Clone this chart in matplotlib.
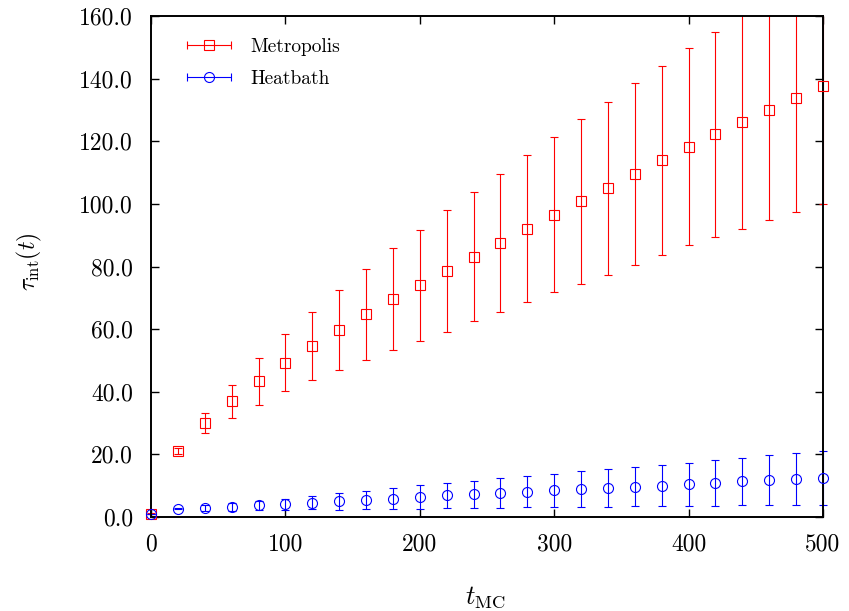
import numpy as np
import matplotlib
matplotlib.use('Agg')
import matplotlib.pyplot as plt
from matplotlib.legend_handler import HandlerErrorbar
from matplotlib.transforms import Bbox, TransformedBbox

# -----------------------------
# Data
# -----------------------------
t_mc = [0, 20, 40, 60, 80, 100, 120, 140, 160, 180, 200, 220, 240,
        260, 280, 300, 320, 340, 360, 380, 400, 420, 440, 460, 480, 500]

metro_tau = [1.0, 21.0, 30.0, 37.0, 43.3, 49.3, 54.6, 59.8, 64.7, 69.5, 74.0,
             78.6, 83.1, 87.6, 92.1, 96.6, 100.8, 105.0, 109.5, 113.9, 118.3,
             122.2, 126.1, 129.9, 133.7, 137.7]
metro_err = [0.2, 1.0, 3.3, 5.3, 7.5, 9.1, 10.9, 12.7, 14.5, 16.3, 17.8,
             19.4, 20.6, 22.0, 23.5, 24.9, 26.3, 27.6, 29.0, 30.2, 31.4,
             32.7, 34.1, 35.1, 36.3, 37.6]

heat_tau = [1.0, 2.7, 2.9, 3.3, 3.7, 4.0, 4.6, 5.0, 5.4, 5.8, 6.4, 6.9, 7.3,
            7.7, 8.1, 8.5, 8.9, 9.3, 9.7, 10.0, 10.4, 10.9, 11.4, 11.8, 12.0, 12.5]
heat_err = [0.1, 0.3, 1.0, 1.3, 1.5, 1.9, 2.2, 2.7, 2.9, 3.35, 3.7, 4.0, 4.3,
            4.7, 5.0, 5.3, 5.7, 6.0, 6.3, 6.6, 7.0, 7.3, 7.6, 8.0, 8.3, 8.7]

x_ticks = [0, 100, 200, 300, 400, 500]
y_ticks = [0, 20, 40, 60, 80, 100, 120, 140, 160]

# -----------------------------
# Style
# -----------------------------
plt.rcParams['font.family'] = 'serif'
plt.rcParams['font.serif'] = ['cmr10', 'DejaVu Serif']
plt.rcParams['mathtext.fontset'] = 'cm'
plt.rcParams['axes.formatter.use_mathtext'] = True

fig = plt.figure(figsize=(8.49, 6.11), dpi=100)
ax = fig.add_axes([151/849, 1-517/611, 672/849, 501/611])

ms = 7.2
cs = 3.2
lw = 0.8

# clip error bars at top/bottom of the frame only (let the edge bars show)
clip = TransformedBbox(Bbox([[-0.02, 0.0], [1.02, 1.0]]), ax.transAxes)

series = [
    (metro_tau, metro_err, 's', '#ff0000', 'Metropolis'),
    (heat_tau, heat_err, 'o', '#0000ff', 'Heatbath'),
]

handles = []
for tau, err, mk, col, lab in series:
    eb = ax.errorbar(t_mc, tau, yerr=err, fmt='none', ecolor=col, elinewidth=lw,
                     capsize=cs, capthick=lw)
    for art in list(eb.lines[1]) + list(eb.lines[2]):
        art.set_clip_path(None)
        art.set_clip_box(clip)
    # open markers, not clipped at the frame edges
    ax.plot(t_mc, tau, linestyle='none', marker=mk, markersize=ms,
            markerfacecolor='none', markeredgecolor=col, markeredgewidth=lw,
            clip_on=False, zorder=3)
    # legend proxy with a horizontal bar like gnuplot's key
    h = ax.errorbar([np.nan], [np.nan], xerr=[1.0], fmt=mk, color=col,
                    markersize=ms, markerfacecolor='none', markeredgecolor=col,
                    markeredgewidth=lw, elinewidth=lw, capsize=cs, capthick=lw,
                    label=lab)
    handles.append(h)

ax.set_xlim(0, 500)
ax.set_ylim(0, 160)
ax.set_xticks(x_ticks)
ax.set_yticks(y_ticks)
ax.set_yticklabels(['%.1f' % v for v in y_ticks])
ax.set_xticklabels([str(v) for v in x_ticks])

ax.tick_params(direction='in', length=5.5, width=1.0, top=True, right=True,
               labelsize=17)
ax.tick_params(axis='y', pad=13)
ax.tick_params(axis='x', pad=12)
for sp in ax.spines.values():
    sp.set_linewidth(1.4)

ax.set_xlabel(r'$t_{\rm MC}$', fontsize=19)
ax.set_ylabel(r'$\tau_{\rm int}(t)$', fontsize=17)
ax.xaxis.set_label_coords(0.497, (517-597)/501)
ax.xaxis.label.set_va('center')
ax.yaxis.set_label_coords((29-151)/672, 0.51)
ax.yaxis.label.set_va('center')

leg = ax.legend(handles=handles, loc='upper left',
                bbox_to_anchor=((187-151)/672, (517-38)/501),
                frameon=False, fontsize=14, borderpad=0, borderaxespad=0,
                handlelength=2.26, handletextpad=0.98, labelspacing=0.7,
                handler_map={type(handles[0]): HandlerErrorbar(xerr_size=1.13)})

fig.savefig('out.png', dpi=100)
